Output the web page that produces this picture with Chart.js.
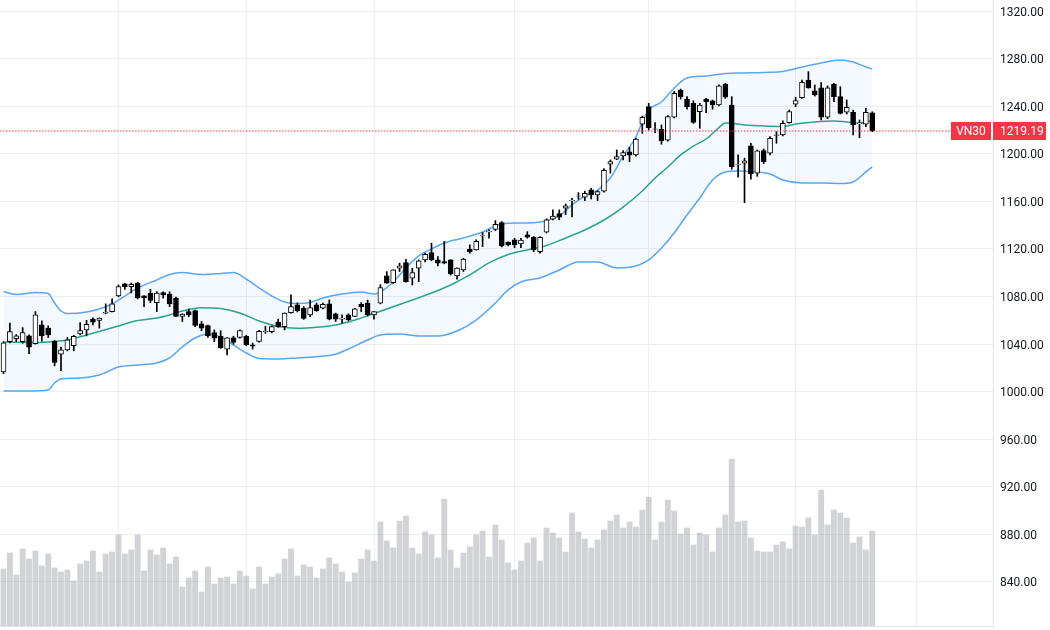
<!DOCTYPE html>
<html><head><meta charset="utf-8">
<script src="https://cdn.jsdelivr.net/npm/chart.js@4.4.1/dist/chart.umd.min.js"></script>
<style>html,body{margin:0;padding:0;background:#fff;overflow:hidden}canvas{display:block}</style>
</head><body>
<canvas id="c" width="1050" height="630"></canvas>
<script>
const symbol = 'VN30';
const opens = [
1016.6,1042,1044.5,1042,1047,1040.3,1056.1,1053.4,1042.3,1031.5,
1035.1,1038.7,1048.6,1051.8,1061,1059.8,1066,1067.3,1080.5,1090.6,
1088.3,1091.2,1080.5,1082.8,1074.9,1083.3,1082,1078.6,1063.2,1067.3,
1068.1,1057,1055.6,1049.7,1046.6,1035.8,1045.2,1045.5,1046.6,1039.4,
1042.3,1050.5,1050.5,1058.4,1054.7,1066.5,1072.9,1070.1,1064.5,1072.9,
1070.1,1073.8,1065.4,1061,1064.5,1063.2,1073.5,1074.4,1064.5,1074.4,
1097.3,1091.7,1103.8,1108.5,1095.4,1103.8,1110.8,1116.9,1110.8,1109.4,
1110.8,1097.3,1102.4,1119.7,1119.2,1130.9,1134.2,1136.3,1142.1,1125.7,
1127.7,1124.2,1131.8,1129.8,1117.7,1134,1144.9,1149.6,1154.2,1160.5,
1164.3,1163.4,1169.6,1165.3,1168.5,1191.2,1195.4,1198.2,1201.7,1199,
1224.8,1239.6,1220.6,1220.6,1211.4,1230.7,1253.6,1246,1242.4,1235.4,
1245.8,1244.4,1241,1258.4,1241,1191,1192,1206.6,1183.6,1202.6,
1200.4,1215.5,1215.8,1226.1,1241.6,1247.1,1262,1252.8,1255.5,1230.7,
1258.4,1248,1234.9,1234.9,1225.2,1224.8,1234.5];
const highs = [
1042,1057.6,1048,1053.8,1047.7,1067.3,1059.5,1055.3,1043,1037.4,
1045.5,1047.4,1058,1060,1062,1062,1073.8,1078,1089.7,1091,
1091.4,1092,1080.8,1086.1,1084.1,1084,1084,1079.5,1065.5,1069.5,
1068.5,1059,1056,1051.9,1051.3,1045.5,1046.6,1051.9,1047.4,1040.9,
1051.6,1055,1055.3,1061,1066.2,1081.4,1074.6,1071.5,1077,1074.5,
1074.5,1077.1,1066,1064.5,1065.5,1070,1074.9,1077,1067.3,1090,
1100.9,1102.4,1108,1111.3,1103.8,1110.8,1116.4,1124.8,1113.5,1126.3,
1111,1104,1112.2,1123.4,1127.7,1133.7,1136,1143.8,1143,1126,
1129,1129,1134.5,1130.4,1130.4,1145.3,1152.8,1152.8,1157.8,1162.6,
1167.3,1168.6,1171,1169,1187.5,1194.8,1203.2,1202.6,1205.5,1213.2,
1231.7,1242.4,1226.1,1224.2,1232,1252.5,1254.4,1248,1244.5,1242.4,
1246.6,1245.2,1258,1259.2,1248,1199,1196.3,1208.8,1203.2,1204,
1214.4,1218.5,1227.7,1236.8,1247.5,1262,1269,1257.8,1259.8,1257,
1259.2,1256.4,1245.2,1236.8,1228.4,1238.2,1235.3];
const lows = [
1015,1041,1042,1040.7,1032,1040,1042.3,1045.5,1021.7,1017.7,
1034.3,1034.3,1047.7,1046.9,1056,1053.4,1065.5,1067,1079.7,1086,
1083,1078,1071.5,1074.9,1067.3,1078.6,1071.5,1063,1059,1063,
1054.7,1051.3,1045.5,1042,1036.5,1030.9,1039.9,1044.9,1038.7,1035.8,
1041.6,1049,1049.4,1054,1051.9,1066,1067,1060.8,1063,1067.5,
1069.5,1060.3,1059,1057.6,1059.5,1063,1067.3,1063.7,1060.9,1073.8,
1091,1091,1101,1092,1089.7,1092.5,1109,1110,1105.7,1107.5,
1098,1094.5,1101,1116.4,1119,1122,1129,1135.4,1121.7,1122.5,
1121,1121,1129,1117.7,1116.5,1133.3,1144.4,1144.5,1148.9,1147,
1161.8,1160.5,1162,1160.6,1167.6,1183.6,1195,1194.8,1193.4,1198,
1217.2,1220,1217.7,1208,1210.5,1230,1246,1237.4,1225.5,1221.4,
1234.5,1237.4,1240.2,1246.6,1187,1180.3,1158.9,1178.6,1181,1191.7,
1199,1208.8,1214.9,1225.6,1239.6,1246.6,1255,1248.5,1228.4,1229.5,
1243.8,1233.4,1233.4,1215.8,1213.5,1222.8,1218.6];
const closes = [
1041,1050.5,1047,1049.7,1037.4,1064.5,1046.9,1047.7,1024.5,1035.1,
1043.6,1046.6,1051.3,1056.7,1058.4,1061.8,1066.6,1073.8,1088.3,1088.3,
1090.3,1078.7,1078.7,1076.6,1082.8,1081.4,1073.8,1063.2,1065.2,1064.5,
1055.6,1053.4,1046.9,1044.9,1036.8,1045.2,1041.4,1051.3,1039.6,1038.3,
1050.8,1051,1054.7,1054.7,1066,1071.5,1068.1,1061.6,1070.7,1068.1,
1073.5,1060.9,1060.9,1061.7,1060.3,1069.6,1071.5,1064.5,1067.3,1087.4,
1091.1,1102.4,1105.7,1092.5,1100.1,1110,1115.5,1110.8,1108,1108,
1099,1103.8,1111.4,1117.5,1126.3,1131.2,1134.8,1140.6,1122.5,1123.4,
1123.4,1127.4,1129.8,1119.2,1129.8,1144.4,1147.7,1146.7,1156.3,1161,
1164.7,1166.8,1165.3,1168.1,1186.1,1193.4,1197.6,1201,1198.9,1212.4,
1230.7,1222,1221,1210.8,1231.2,1250.8,1248,1239.6,1226.4,1241,
1243.8,1241,1257.2,1247.5,1189.2,1191.4,1194,1183.1,1202.4,1193.4,
1213,1216,1225.6,1235.4,1244.6,1260,1255.5,1249.4,1230.7,1255.5,
1248,1234,1239,1224.2,1225.8,1234.9,1219.19];
const volumes = [
57,73,51,77,67,75,60,72,58,54,
56,45,62,65,75,54,72,74,91,72,
76,91,55,76,71,78,62,69,39,48,
55,34,59,42,48,49,42,55,50,37,
59,42,49,52,67,77,50,61,59,48,
57,68,62,54,44,53,67,76,65,104,
85,78,105,110,78,72,94,91,68,127,
76,58,73,79,91,95,69,101,86,63,
56,65,83,88,65,98,93,88,74,113,
94,87,78,86,96,105,111,98,104,99,
116,129,86,104,126,115,92,98,81,93,
91,74,98,111,167,104,105,88,75,74,
74,81,84,77,100,99,108,91,136,101,
116,113,108,83,89,76,95];
// Bollinger bands: [candle index, value]
const bbUpper = [[0,1084.2],[2,1081.7],[5,1083.4],[7,1082.5],[8,1074.5],[9,1067.8],[10,1065.7],[13,1067],[15,1069.5],[17,1073.7],[19,1080.4],[21,1087.2],[24,1093.9],[26,1098.5],[28,1100.2],[31,1098.5],[34,1099.3],[36,1100.2],[38,1094.7],[40,1087.2],[42,1080.4],[44,1075.4],[46,1074.1],[48,1075],[50,1078.7],[53,1082.1],[56,1083.8],[58,1082.1],[59,1083.8],[61,1092.2],[63,1104],[65,1114.1],[67,1120],[69,1125],[72,1129.2],[75,1134.2],[78,1141],[81,1141.8],[84,1142.7],[87,1147.7],[89,1157],[91,1164.5],[93,1169.5],[95,1179.6],[97,1198.1],[99,1214.1],[100,1226.7],[101,1236.8],[103,1243.5],[105,1255.3],[107,1263.7],[110,1265.4],[113,1267.5],[116,1267.9],[119,1268.3],[122,1269.1],[125,1272.9],[128,1276.3],[131,1278.8],[133,1277.1],[135,1272.9],[136,1271.2]];
const bbBasis = [[0,1041.8],[5,1041.4],[8,1042.2],[10,1043.4],[13,1047.6],[15,1050.6],[18,1055.2],[21,1059.8],[24,1061.9],[26,1064.5],[28,1067.8],[31,1070.6],[34,1069.9],[37,1066.1],[40,1059.4],[43,1054.8],[46,1053.3],[49,1054.1],[52,1056],[55,1060.2],[58,1065.7],[61,1071.4],[64,1077.1],[67,1082.9],[70,1089.7],[73,1098.1],[76,1108.2],[79,1115.3],[82,1119.1],[85,1122.9],[88,1129.2],[91,1135.9],[94,1144.3],[97,1155.2],[100,1168.7],[102,1179.6],[104,1188.9],[106,1199],[108,1206.5],[110,1212.4],[112,1222],[113,1225.9],[116,1224.2],[119,1223.3],[122,1222.9],[124,1225],[127,1226.7],[130,1227.5],[132,1226.7],[134,1225.9],[136,1228]];
const bbLower = [[0,1000.6],[4,1000.6],[7,1001.4],[8,1007.3],[9,1010.7],[12,1011.5],[15,1014],[18,1020.7],[21,1022.4],[24,1024.1],[26,1028.3],[28,1037.6],[30,1045.1],[32,1048.5],[34,1046],[36,1039.2],[38,1032.5],[40,1027.9],[43,1027.5],[46,1028.3],[49,1029.4],[52,1031.4],[54,1035.9],[57,1043.4],[59,1047.6],[62,1048.5],[65,1046.8],[68,1046.8],[71,1051],[74,1060.2],[77,1074.5],[79,1085.5],[81,1092.2],[84,1095.6],[87,1102.3],[90,1109],[93,1109],[96,1104],[99,1105.6],[101,1110.7],[103,1120.8],[105,1133.4],[107,1148.5],[109,1162.8],[111,1177.9],[113,1184.7],[115,1185.5],[118,1184.7],[120,1183],[122,1177.9],[125,1175.4],[128,1175.4],[131,1175],[133,1176.3],[135,1184.7],[136,1188.9]];
const priceTicks = [840,880,920,960,1000,1040,1080,1120,1160,1200,1240,1280,1320];
const monthStartIdx = [18,38,58,80,101,124,143];

const idx = opens.map((_, i) => i);
const isUp = idx.map(i => closes[i] >= opens[i]);
const bodyData = idx.map(i => ({x: i, y: [Math.min(opens[i], closes[i]), Math.max(opens[i], closes[i])]}));
const wickData = idx.map(i => ({x: i, y: [lows[i], highs[i]]}));
const volData = idx.map(i => ({x: i, y: volumes[i]}));
const toPts = arr => arr.map(p => ({x: p[0], y: p[1]}));
const lastClose = closes[closes.length - 1];

Chart.defaults.font.family = 'Roboto, "Liberation Sans", Arial, sans-serif';
Chart.defaults.font.size = 12;

const gridColor = '#eceef2';
const red = '#f23645';
const noPad = s => { s.paddingTop = 0; s.paddingBottom = 0; s.paddingLeft = 0; s.paddingRight = 0; };

const priceLine = {
  id: 'priceLine',
  afterDatasetsDraw(chart) {
    const {ctx, chartArea, scales} = chart;
    const y = Math.round(scales.y.getPixelForValue(lastClose));
    ctx.save();
    ctx.strokeStyle = red;
    ctx.lineWidth = 1.2;
    ctx.setLineDash([1.5, 1.5]);
    ctx.beginPath();
    ctx.moveTo(chartArea.left, y);
    ctx.lineTo(chartArea.right, y);
    ctx.stroke();
    ctx.setLineDash([]);
    const h = 18;
    ctx.fillStyle = red;
    ctx.fillRect(chartArea.right - 42, y - h / 2, 40, h);
    ctx.fillRect(chartArea.right, y - h / 2, 53, h);
    ctx.fillStyle = '#ffffff';
    ctx.font = '12px Roboto, "Liberation Sans", Arial, sans-serif';
    ctx.textBaseline = 'middle';
    ctx.textAlign = 'center';
    ctx.fillText(symbol, chartArea.right - 22, y + 1);
    ctx.textAlign = 'left';
    ctx.fillText(lastClose.toFixed(2), chartArea.right + 7, y + 1);
    ctx.restore();
  }
};

new Chart(document.getElementById('c'), {
  type: 'bar',
  data: {
    datasets: [
      {
        type: 'bar', label: 'body', data: bodyData, yAxisID: 'y', order: 0,
        grouped: false, barThickness: 5,
        backgroundColor: idx.map(i => isUp[i] ? '#ffffff' : '#000000'),
        borderColor: '#000000', borderWidth: 1, borderSkipped: false
      },
      {
        type: 'bar', label: 'wick', data: wickData, yAxisID: 'y', order: 1,
        grouped: false, barThickness: 1, backgroundColor: '#000000', borderWidth: 0
      },
      {
        type: 'line', label: 'upper', data: toPts(bbUpper), yAxisID: 'y', order: 2,
        borderColor: '#5aa7f2', borderWidth: 1.5, pointRadius: 0,
        cubicInterpolationMode: 'monotone', fill: '+2', backgroundColor: 'rgba(33,150,243,0.055)'
      },
      {
        type: 'line', label: 'basis', data: toPts(bbBasis), yAxisID: 'y', order: 2,
        borderColor: '#2ba58f', borderWidth: 1.5, pointRadius: 0,
        cubicInterpolationMode: 'monotone', fill: false
      },
      {
        type: 'line', label: 'lower', data: toPts(bbLower), yAxisID: 'y', order: 2,
        borderColor: '#5aa7f2', borderWidth: 1.5, pointRadius: 0,
        cubicInterpolationMode: 'monotone', fill: false
      },
      {
        type: 'bar', label: 'volume', data: volData, yAxisID: 'yv', order: 3,
        grouped: false, barThickness: 5.2, backgroundColor: 'rgba(160,163,172,0.48)', borderWidth: 0
      }
    ]
  },
  options: {
    responsive: false, animation: false, devicePixelRatio: 1,
    layout: {padding: {left: 0, right: 0, top: 0, bottom: 4}},
    plugins: {legend: {display: false}, tooltip: {enabled: false}},
    scales: {
      x: {
        type: 'linear', position: 'bottom', min: -0.548, max: 154.9, offset: false,
        afterBuildTicks: s => { s.ticks = monthStartIdx.map(v => ({value: v})); },
        afterFit: s => { noPad(s); s.height = 0; },
        ticks: {display: false},
        grid: {color: gridColor, drawTicks: false, offset: false},
        border: {display: true, color: '#e0e3eb'}
      },
      y: {
        type: 'linear', position: 'right', min: 803, max: 1329.25,
        afterBuildTicks: s => { s.ticks = priceTicks.map(v => ({value: v})); },
        afterFit: s => { noPad(s); s.width = 57; },
        ticks: {color: '#131722', padding: 7, labelOffset: 1.5, callback: v => Number(v).toFixed(2), font: {size: 12}},
        grid: {color: gridColor, drawTicks: false},
        border: {display: true, color: '#e0e3eb'}
      },
      yv: {type: 'linear', display: false, min: 0, max: 626}
    }
  },
  plugins: [priceLine]
});
</script>
</body></html>
